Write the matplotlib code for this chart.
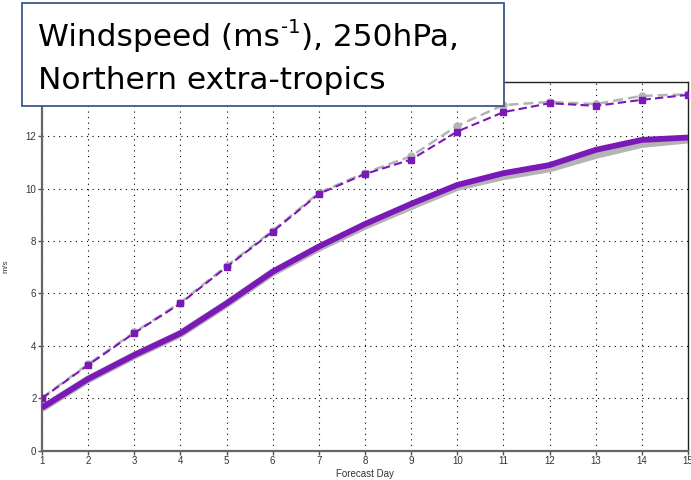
import numpy as np
import matplotlib.pyplot as plt

plt.rc('font', family=['Liberation Sans', 'DejaVu Sans'])

# Data
days = np.arange(1, 16)
mean_purple = [1.64, 2.74, 3.65, 4.48, 5.62, 6.83, 7.79, 8.65, 9.42, 10.14,
               10.59, 10.90, 11.48, 11.86, 11.95]
mean_grey = [1.62, 2.72, 3.63, 4.46, 5.60, 6.80, 7.74, 8.58, 9.33, 10.06,
             10.47, 10.77, 11.28, 11.70, 11.87]
sd_purple = [2.00, 3.27, 4.49, 5.62, 7.01, 8.36, 9.80, 10.56, 11.11, 12.18,
             12.92, 13.26, 13.16, 13.39, 13.58]
sd_grey = [2.02, 3.30, 4.52, 5.65, 7.05, 8.40, 9.84, 10.60, 11.24, 12.40,
           13.19, 13.31, 13.23, 13.54, 13.60]

purple = '#7B18B8'
grey = '#B4B4B4'

fig = plt.figure(figsize=(6.91, 4.80), dpi=100)
ax = fig.add_axes([42 / 691, 29.3 / 480, 646 / 691, 368.7 / 480])

# grey (reference) lines underneath
ax.plot(days, mean_grey, '-', color=grey, lw=5.5, solid_capstyle='butt', zorder=2)
ax.plot(days, sd_grey, '--', color=grey, lw=1.8, marker='o', ms=5,
        dashes=(4, 2), zorder=2)
# purple lines on top
ax.plot(days, mean_purple, '-', color=purple, lw=4.2, solid_capstyle='butt', zorder=3)
ax.plot(days, sd_purple, '--', color=purple, lw=1.5, marker='s', ms=5,
        dashes=(4, 2), zorder=3)

ax.set_xlim(1, 15)
ax.set_ylim(0, 14.07)
ax.set_xticks(days)
ax.set_yticks(np.arange(0, 13, 2))
ax.grid(True, color='k', linestyle=(0, (1, 4)), linewidth=0.8)

ax.tick_params(direction='out', length=3, width=1, colors='#555555',
               labelsize=7, labelcolor='#333333', pad=1)
for s in ['left', 'bottom']:
    ax.spines[s].set_color('#666666')
    ax.spines[s].set_linewidth(1.6)
for s in ['top', 'right']:
    ax.spines[s].set_color('#222222')
    ax.spines[s].set_linewidth(1.0)

ax.set_xlabel('Forecast Day', fontsize=7, color='#333333', labelpad=2)
ax.set_ylabel('m/s', fontsize=6, color='#333333')
ax.yaxis.set_label_coords(-0.05, 0.5)

# title box
fig.patches.append(plt.Rectangle((22 / 691, 1 - 106 / 480), 482 / 691, 103 / 480,
                                 transform=fig.transFigure, facecolor='white',
                                 edgecolor='#3A5A8C', linewidth=1.3, zorder=10))

# first line built in pieces so the superscript uses a plain hyphen
tfont = dict(family='DejaVu Sans', ha='left', va='baseline', zorder=11)
renderer = fig.canvas.get_renderer()
x0 = 38 / 691
y1 = 1 - 46 / 480
t1 = fig.text(x0, y1, 'Windspeed (ms', fontsize=22.5, **tfont)
bb = t1.get_window_extent(renderer)
x1 = bb.x1 / fig.bbox.width + 1 / 691
t2 = fig.text(x1, y1 + 13 / 480, '-1', fontsize=14, **tfont)
bb = t2.get_window_extent(renderer)
x2 = bb.x1 / fig.bbox.width + 1 / 691
fig.text(x2, y1, '), 250hPa,', fontsize=22.5, **tfont)
fig.text(x0, 1 - 89 / 480, 'Northern extra-tropics', fontsize=22.5, **tfont)

fig.savefig('out.png', dpi=100)
